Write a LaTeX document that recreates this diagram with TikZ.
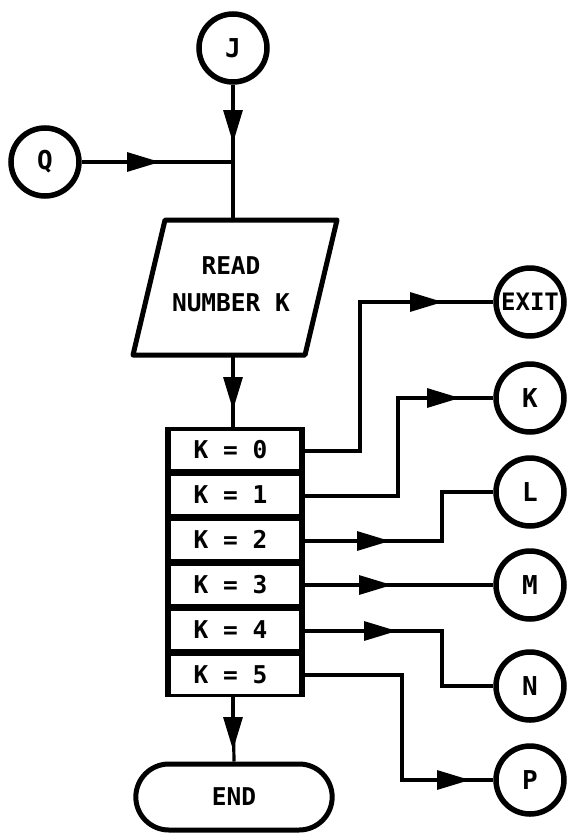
\documentclass[tikz,border=0pt]{standalone}
\usepackage{fontspec}
\newfontfamily\plotfont{DejaVu Sans Mono Bold}
\usetikzlibrary{arrows.meta,shapes.misc}
\begin{document}
\begin{tikzpicture}[x=1pt,y=-1pt,
  conn/.style={line width=3.2pt},
  tipx/.style={line width=3.2pt,-{Triangle[length=33pt,width=19pt]}},
  bigfont/.style={font=\plotfont\fontsize{24.5}{37}\selectfont},
  conncircle/.style={circle,draw,line width=5.5pt,minimum size=68pt,inner sep=0pt,font=\plotfont\fontsize{26}{28}\selectfont},
  rowbox/.style={fill=white,minimum width=128pt,minimum height=38pt,inner sep=0pt,bigfont},
  thick5/.style={line width=5pt,line join=round}
]
\useasboundingbox (0,0) rectangle (569,838);

% connector circles
\node[conncircle] (J) at (233,48) {J};
\node[conncircle] (Q) at (45,162) {Q};
\node[conncircle,font=\plotfont\fontsize{24}{28}\selectfont] (exit) at (530,302) {EXIT};
\node[conncircle] (ck) at (530,398) {K};
\node[conncircle] (cl) at (530,492) {L};
\node[conncircle] (cm) at (530,585) {M};
\node[conncircle] (cn) at (530,686) {N};
\node[conncircle] (cp) at (530,780) {P};

% read parallelogram
\draw[thick5] (165,220) -- (337,220) -- (305,355) -- (133,355) -- cycle;
\node[bigfont,align=center] (read) at (231,284) {READ\\NUMBER K};
\coordinate (readtop) at (233,220);
\coordinate (readbot) at (233,355);
\coordinate (join) at (233,162);

% selection box
\node[fill=black,minimum width=140pt,minimum height=270pt,inner sep=0pt] (sel) at (235,562) {};
\foreach \i/\t in {0/0,1/1,2/2,3/3,4/4,5/5}{
  \node[rowbox] (r\i) at (235,{427+45*\i+22.5}) {K = \t\hspace*{9pt}};
}

% end terminal
\node[rounded rectangle,draw,line width=5pt,minimum width=203pt,minimum height=66pt,bigfont] (end) at (234,797) {END};

% top connectors
\draw[conn] (J.south) -- (readtop);
\coordinate (jtip) at (233,143);
\draw[tipx] (J.south) -- (jtip);
\draw[conn] (Q.east) -- (join);
\coordinate (qtip) at (160,162);
\draw[tipx] (Q.east) -- (qtip);

\coordinate (seltop) at (233,427);
\draw[conn] (readbot) -- (seltop);
\coordinate (stip) at (233,410);
\draw[tipx] (readbot) -- (stip);

\coordinate (selbot) at (233,697);
\draw[conn] (selbot) -- (end.north);
\coordinate (etip) at (233,750);
\draw[tipx] (selbot) -- (etip);

% branch connectors
\coordinate (o0) at (305,451);
\coordinate (o1) at (305,496);
\coordinate (o2) at (305,541);
\coordinate (o3) at (305,585);
\coordinate (o4) at (305,631);
\coordinate (o5) at (305,675);

% K=0 -> EXIT
\draw[conn] (o0) -- (360,451) -- (360,302) -- (exit.west);
\coordinate (t0) at (443,302);
\draw[tipx] (360,302) -- (t0);
% K=1 -> K
\draw[conn] (o1) -- (398,496) -- (398,398) -- (ck.west);
\coordinate (t1) at (460,398);
\draw[tipx] (398,398) -- (t1);
% K=2 -> L
\draw[conn] (o2) -- (442,541) -- (442,492) -- (cl.west);
\coordinate (t2) at (390,541);
\draw[tipx] (o2) -- (t2);
% K=3 -> M
\draw[conn] (o3) -- (cm.west);
\coordinate (t3) at (392,585);
\draw[tipx] (o3) -- (t3);
% K=4 -> N
\draw[conn] (o4) -- (442,631) -- (442,686) -- (cn.west);
\coordinate (t4) at (397,631);
\draw[tipx] (o4) -- (t4);
% K=5 -> P
\draw[conn] (o5) -- (402,675) -- (402,780) -- (cp.west);
\coordinate (t5) at (470,780);
\draw[tipx] (402,780) -- (t5);
\end{tikzpicture}
\end{document}
